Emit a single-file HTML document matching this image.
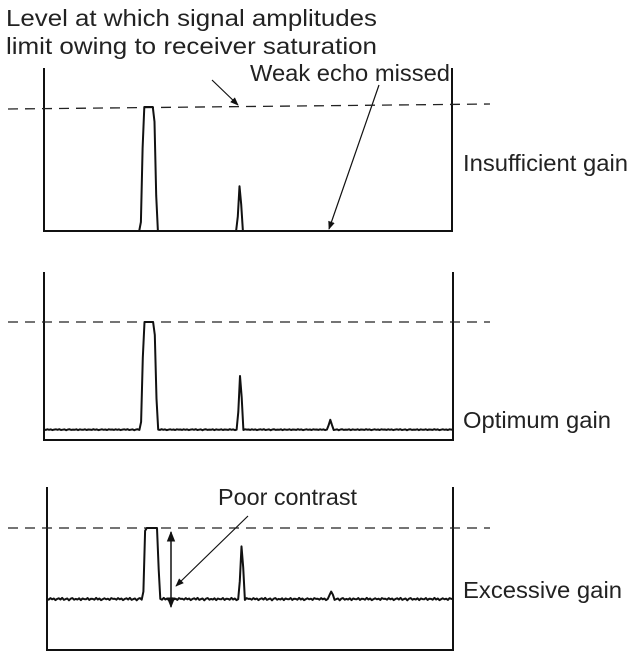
<!DOCTYPE html>
<html><head><meta charset="utf-8"><style>
body{margin:0;background:#fff}
svg{display:block}
text{font-family:"Liberation Sans",sans-serif;fill:#222}
</style></head><body>
<svg id="c" width="630" height="651" viewBox="0 0 630 651">
<defs><marker id="ah" viewBox="0 0 10 10" refX="9" refY="5" markerWidth="7" markerHeight="7" orient="auto-start-reverse"><path d="M0,1 L10,5 L0,9 z" fill="#111"/></marker></defs>
<text x="6" y="26" font-size="23.5" textLength="371" lengthAdjust="spacingAndGlyphs">Level at which signal amplitudes</text>
<text x="6" y="54" font-size="23.5" textLength="371" lengthAdjust="spacingAndGlyphs">limit owing to receiver saturation</text>
<text x="250" y="81" font-size="23.5" textLength="200" lengthAdjust="spacingAndGlyphs">Weak echo missed</text>
<text x="218" y="505" font-size="23.5" textLength="139" lengthAdjust="spacingAndGlyphs">Poor contrast</text>
<line x1="212" y1="80" x2="238" y2="105" stroke="#111" stroke-width="1.2" marker-end="url(#ah)"/>
<line x1="379" y1="85" x2="329" y2="229" stroke="#111" stroke-width="1.2" marker-end="url(#ah)"/>
<line x1="248" y1="516" x2="176" y2="586" stroke="#111" stroke-width="1.2" marker-end="url(#ah)"/>
<line x1="171" y1="532" x2="171" y2="607" stroke="#111" stroke-width="1.5" marker-start="url(#ah)" marker-end="url(#ah)"/>
</svg>
<script>
const panelNames=["Insufficient gain","Optimum gain","Excessive gain"];
const labelWidths=[165,148,159];
const echoPositions=[0.257,0.48,0.70];
const echoAmplitudes=[[1.0,0.41,0.0],[1.0,0.55,0.09],[1.4,0.76,0.1]];
const noiseLevel=[0,0.03,0.1];
const noise=[0.2,-0.3,0.5,-0.1,0.3,-0.5,0.1,0.4,-0.2,0.6,-0.4,0.0,0.3,-0.6,0.2,0.5,-0.3,0.1,-0.2,0.4,-0.5,0.3,0.0,-0.1,0.5,-0.4,0.2,0.1,-0.3,0.6,-0.2,0.3,-0.5,0.0,0.4,-0.1,0.2,-0.4,0.5,0.1];
const P=[{l:44,r:452,t:68,b:231,base:231,sat:107,ly:171},{l:44,r:453,t:272,b:440,base:433,sat:322,ly:428},{l:47,r:453,t:487,b:650,base:607,sat:528,ly:598}];
const svg=document.getElementById('c');
const NS='http://www.w3.org/2000/svg';
function mk(t,a){const e=document.createElementNS(NS,t);for(const k in a)e.setAttribute(k,a[k]);svg.appendChild(e);return e;}
P.forEach((p,i)=>{
 const xs=f=>p.l+f*(p.r-p.l);
 const ys=v=>p.base-Math.min(v,1)*(p.base-p.sat);
 const fr=mk('path',{d:`M${p.l},${p.t} L${p.l},${p.b} L${p.r},${p.b} L${p.r},${p.t}`,fill:'none',stroke:'#111','stroke-width':2});
 
 
 const dl=mk('line',{x1:8,y1:p.sat+(i==0?2:0),x2:490,y2:p.sat-(i==0?3:0),stroke:'#222','stroke-width':1.3,'stroke-dasharray':'10,7'});
 
 
 const tx=mk('text',{x:463,y:p.ly,'font-size':23.5,textLength:labelWidths[i],lengthAdjust:'spacingAndGlyphs'});tx.textContent=panelNames[i];
 
 
 const N=240;let d='';
 for(let k=0;k<=N;k++){
  const f=k/N;const nz=noiseLevel[i]*(1+0.25*noise[k%noise.length]);let v=nz;
  echoPositions.forEach((c,j)=>{const a=echoAmplitudes[i][j];if(!a)return;
   const w=j==0?0.013:0.007;const dd=Math.abs(f-c);
   if(j==0&&a>=1){if(dd<w)v=Math.max(v,a);else if(dd<w+0.007)v=Math.max(v,nz+(a-nz)*(1-(dd-w)/0.007));}
   else if(dd<w)v=Math.max(v,nz+a*(1-dd/w));});
  d+=(k?'L':'M')+xs(f).toFixed(1)+','+ys(v).toFixed(1);
 }
 const tr=mk('path',{d:d,fill:'none',stroke:'#111','stroke-width':2,'stroke-linejoin':'round'});
 
 
});
</script>
</body></html>
